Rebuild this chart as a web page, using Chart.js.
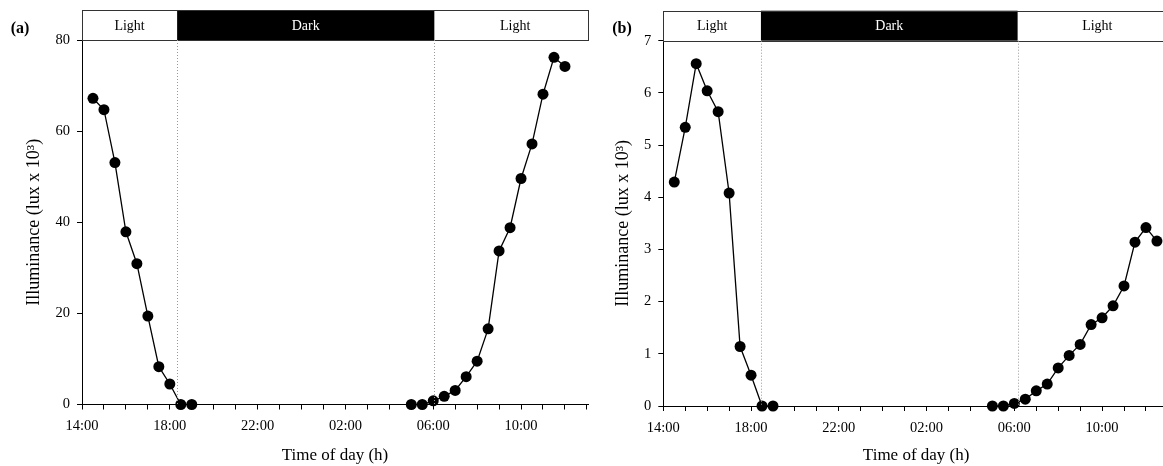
<!DOCTYPE html>
<html><head><meta charset="utf-8">
<script src="https://cdn.jsdelivr.net/npm/chart.js@4/dist/chart.umd.min.js"></script>
<style>
html,body{margin:0;padding:0;background:#fff;overflow:hidden;width:1163px;height:466px;position:relative;}
canvas{position:absolute;top:0;}
#ca{left:0;}
#cb{left:581px;}
</style></head><body>
<canvas id="ca" width="600" height="466"></canvas>
<canvas id="cb" width="600" height="466"></canvas>
<script>
// ---- data ----
const eveningTimes = ['14:30','15:00','15:30','16:00','16:30','17:00','17:30','18:00','18:30','19:00'];
const morningTimesA = ['05:00','05:30','06:00','06:30','07:00','07:30','08:00','08:30','09:00','09:30','10:00','10:30','11:00','11:30','12:00'];
const morningTimesB = ['05:00','05:30','06:00','06:30','07:00','07:30','08:00','08:30','09:00','09:30','10:00','10:30','11:00','11:30','12:00','12:30'];
const eveningA = [67.2, 64.7, 53.1, 37.9, 30.9, 19.4, 8.3, 4.5, 0, 0];
const morningA = [0, 0, 0.8, 1.8, 3.1, 6.1, 9.5, 16.6, 33.7, 38.8, 49.6, 57.2, 68.1, 76.2, 74.2];
const eveningB = [4.29, 5.34, 6.56, 6.04, 5.64, 4.08, 1.14, 0.59, 0, 0];
const morningB = [0, 0, 0.05, 0.13, 0.29, 0.42, 0.73, 0.97, 1.18, 1.56, 1.69, 1.92, 2.30, 3.14, 3.42, 3.16];
const darkA = ['18:20', '06:03'];
const darkB = ['18:27', '06:09'];
const bandLabels = ['Light', 'Dark', 'Light'];
const xTickLabels = ['14:00','18:00','22:00','02:00','06:00','10:00'];
const yTicksA = [0, 20, 40, 60, 80];
const yTicksB = [0, 1, 2, 3, 4, 5, 6, 7];
const panelLabels = ['(a)', '(b)'];
const xTitle = 'Time of day (h)';
const yTitle = 'Illuminance (lux x 10\u00B3)';

// ---- helpers ----
const START = 14;
function hrs(t){ const [h,m] = t.split(':').map(Number); return ((h + m/60 - START) + 24) % 24; }
function pts(times, vals){ return times.map((t,i)=>({x: hrs(t), y: vals[i]})); }
const labelPos = {}; xTickLabels.forEach(l => { labelPos[hrs(l)] = l; });
const SERIF = "'Liberation Serif','Times New Roman',serif";

const bandPlugin = {
  id: 'band',
  afterDraw(chart, args, o) {
    const {ctx, chartArea: {left, right, top, bottom}, scales: {x}} = chart;
    const h = 30, y0 = top - h;
    const xs = x.getPixelForValue(hrs(o.dark[0])), xe = x.getPixelForValue(hrs(o.dark[1]));
    ctx.save();
    ctx.fillStyle = '#fff'; ctx.fillRect(left, y0, right - left, h);
    ctx.fillStyle = '#000'; ctx.fillRect(xs, y0, xe - xs, h);
    ctx.strokeStyle = '#333'; ctx.lineWidth = 1;
    ctx.strokeRect(Math.round(left) + 0.5, Math.round(y0) + 0.5, right - left, h);
    ctx.font = '14px ' + SERIF; ctx.textAlign = 'center'; ctx.textBaseline = 'middle';
    ctx.fillStyle = '#000';
    ctx.fillText(bandLabels[0], (left + xs) / 2, y0 + h / 2 + 1);
    ctx.fillText(bandLabels[2], (xe + right) / 2 + 4, y0 + h / 2 + 1);
    ctx.fillStyle = '#fff';
    ctx.fillText(bandLabels[1], (xs + xe) / 2, y0 + h / 2 + 1);
    ctx.strokeStyle = '#999'; ctx.setLineDash([1, 2]);
    [xs, xe].forEach(px => { ctx.beginPath(); ctx.moveTo(Math.round(px) + 0.5, top); ctx.lineTo(Math.round(px) + 0.5, bottom); ctx.stroke(); });
    ctx.setLineDash([]);
    ctx.font = 'bold 16px ' + SERIF; ctx.fillStyle = '#000'; ctx.textAlign = 'center';
    ctx.fillText(o.panel, o.panelX, 29);
    ctx.restore();
  }
};

function makeChart(id, ev, mo, yMax, yTicks, dark, panel, panelX, padTop, yW, xH, yTitlePad) {
  const ds = (data) => ({
    data, borderColor: '#000', borderWidth: 1.3, backgroundColor: '#000',
    pointRadius: 5.5, pointHoverRadius: 5.5, pointBackgroundColor: '#000', pointBorderWidth: 0,
    tension: 0, clip: false
  });
  return new Chart(document.getElementById(id), {
    type: 'line',
    data: { datasets: [ds(ev), ds(mo)] },
    options: {
      responsive: false, animation: false, events: [],
      layout: { padding: { top: padTop, right: 12, left: 0, bottom: 0 } },
      plugins: { legend: { display: false }, tooltip: { enabled: false }, band: { dark, panel, panelX } },
      scales: {
        x: {
          type: 'linear', min: 0, max: 23.05,
          afterBuildTicks: s => { s.ticks = Array.from({length: 24}, (_, i) => ({value: i})); },
          afterFit: s => { s.height = xH; },
          ticks: { autoSkip: false, maxRotation: 0, padding: 8, color: '#000', font: { family: SERIF, size: 14.5 },
                   callback: v => labelPos[v] || '' },
          grid: { drawOnChartArea: false, drawTicks: true, tickLength: 5, color: '#000' },
          border: { display: true, color: '#000', width: 1 },
          title: { display: true, text: xTitle, color: '#000', font: { family: SERIF, size: 17 }, padding: { top: 0, bottom: 0 } }
        },
        y: {
          type: 'linear', min: 0, max: yMax,
          afterBuildTicks: s => { s.ticks = yTicks.map(v => ({value: v})); },
          afterFit: s => { s.width = yW; },
          ticks: { padding: 7, color: '#000', font: { family: SERIF, size: 14.5 } },
          grid: { drawOnChartArea: false, drawTicks: true, tickLength: 5, color: '#000' },
          border: { display: true, color: '#000', width: 1 },
          title: { display: true, text: yTitle, color: '#000', font: { family: SERIF, size: 18 }, padding: { top: yTitlePad, bottom: 0 } }
        }
      }
    },
    plugins: [bandPlugin]
  });
}

makeChart('ca', pts(eveningTimes, eveningA), pts(morningTimesA, morningA), 80, yTicksA, darkA, panelLabels[0], 20, 40, 82, 61.5, 23);
makeChart('cb', pts(eveningTimes, eveningB), pts(morningTimesB, morningB), 7, yTicksB, darkB, panelLabels[1], 41, 40.7, 82.3, 60, 31);
</script>
</body></html>
